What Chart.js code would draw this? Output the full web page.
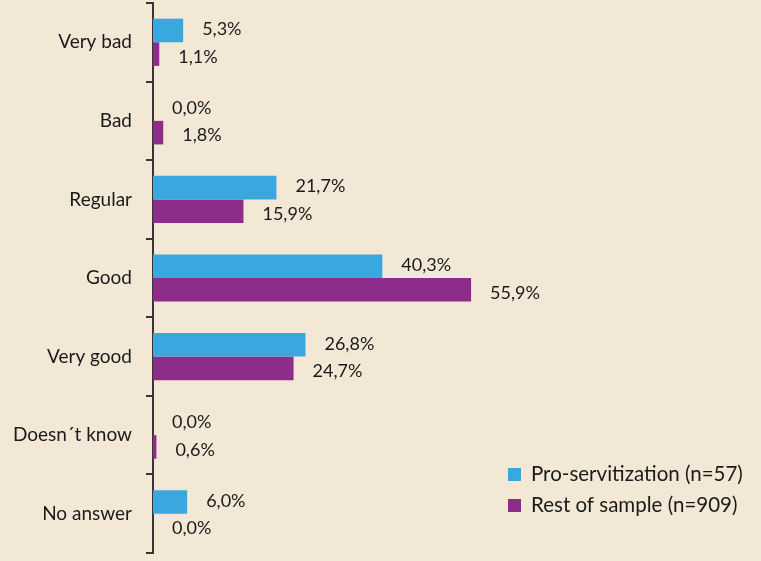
<!DOCTYPE html>
<html>
<head>
<meta charset="utf-8">
<script src="https://cdn.jsdelivr.net/npm/chart.js@4.4.0/dist/chart.umd.min.js"></script>
<style>
  html, body { margin: 0; padding: 0; background: #F3E8D5; }
  #wrap { width: 761px; height: 561px; position: relative; }
</style>
</head>
<body>
<div id="wrap"><canvas id="c"></canvas></div>
<script>
const categories = ["Very bad", "Bad", "Regular", "Good", "Very good", "Doesn\u00B4t know", "No answer"];
const proServitization = [5.3, 0.0, 21.7, 40.3, 26.8, 0.0, 6.0];
const restOfSample = [1.1, 1.8, 15.9, 55.9, 24.7, 0.6, 0.0];
const seriesNames = ["Pro-servitization (n=57)", "Rest of sample (n=909)"];
const seriesColors = ["#3AA8DF", "#8E2C8A"];

const FONT = "Lato, 'Open Sans', sans-serif";

const valueLabels = {
  id: 'valueLabels',
  afterDatasetsDraw(chart) {
    const ctx = chart.ctx;
    ctx.save();
    ctx.font = "18px " + FONT;
    ctx.fillStyle = "#1a1a1a";
    ctx.textAlign = "left";
    ctx.textBaseline = "middle";
    chart.data.datasets.forEach((ds, di) => {
      const meta = chart.getDatasetMeta(di);
      meta.data.forEach((bar, i) => {
        const v = ds.data[i];
        const txt = v.toFixed(1).replace('.', ',') + '%';
        const dy = di === 0 ? -1 : 3;
        ctx.fillText(txt, bar.x + 19, bar.y + dy);
      });
    });
    ctx.restore();
  }
};

const customLegend = {
  id: 'customLegend',
  afterDraw(chart) {
    const ctx = chart.ctx;
    ctx.save();
    ctx.font = "20.5px " + FONT;
    ctx.textAlign = "left";
    ctx.textBaseline = "middle";
    chart.data.datasets.forEach((ds, i) => {
      const y = 474 + i * 31;
      ctx.fillStyle = ds.backgroundColor;
      ctx.fillRect(508, y - 6, 13, 13);
      ctx.fillStyle = "#1a1a1a";
      ctx.fillText(ds.label, 531, y);
    });
    ctx.restore();
  }
};

new Chart(document.getElementById('c'), {
  type: 'bar',
  data: {
    labels: categories,
    datasets: [
      { label: seriesNames[0], data: proServitization, backgroundColor: seriesColors[0] },
      { label: seriesNames[1], data: restOfSample, backgroundColor: seriesColors[1] }
    ]
  },
  options: {
    indexAxis: 'y',
    responsive: true,
    maintainAspectRatio: false,
    animation: false,
    devicePixelRatio: 1,
    layout: { padding: { top: 3, bottom: 8, left: 0, right: 39 } },
    datasets: { bar: { categoryPercentage: 0.6, barPercentage: 1.0 } },
    plugins: {
      legend: { display: false },
      tooltip: { enabled: false }
    },
    scales: {
      x: {
        display: false,
        min: 0,
        max: 100
      },
      y: {
        afterFit(scale) {
          scale.width = 153;
          scale.paddingTop = 0;
          scale.paddingBottom = 0;
        },
        border: { display: true, color: '#3a3530', width: 2 },
        grid: {
          offset: true,
          drawOnChartArea: false,
          drawTicks: true,
          tickLength: 7,
          color: '#3a3530',
          lineWidth: 2
        },
        ticks: {
          font: { family: FONT, size: 19 },
          color: '#1a1a1a',
          padding: 14
        }
      }
    }
  },
  plugins: [valueLabels, customLegend]
});
</script>
</body>
</html>
